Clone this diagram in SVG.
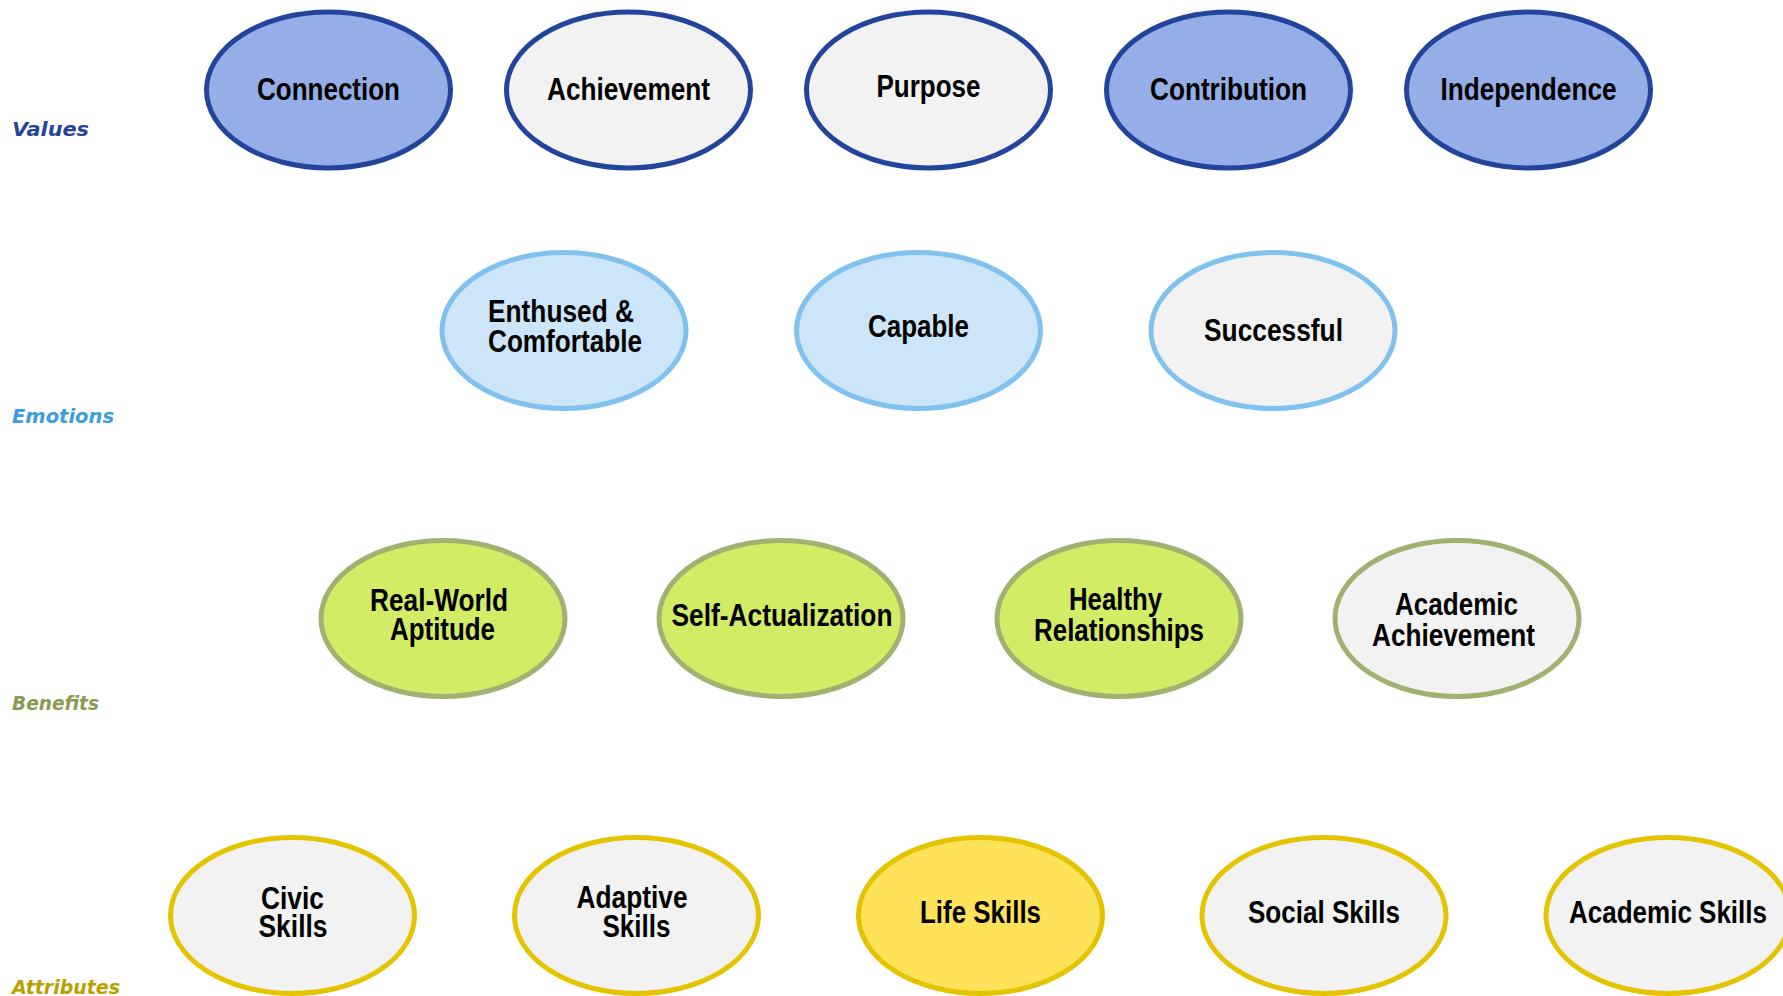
<svg xmlns="http://www.w3.org/2000/svg" width="1783" height="996" viewBox="0 0 1783 996">
<style>
.bg{fill:#FFFFFF}
ellipse{stroke-width:5}
.v{stroke:#23449C}
.e{stroke:#80C2EF}
.b{stroke:#A1B172}
.a{stroke:#E4C300}
.fv{fill:#95AEE8}
.fe{fill:#CCE5F8}
.fb{fill:#D2EC65}
.fa{fill:#FEE35A}
.fg{fill:#F2F2F2}
.t{font-family:'Liberation Sans Narrow','Liberation Sans',Arial,sans-serif;font-weight:bold;font-size:32px;fill:#000;text-anchor:middle}
.lbl{font-family:'DejaVu Sans',Verdana,sans-serif;font-weight:bold;font-style:italic;font-size:20px}
</style>
<rect class="bg" x="0" y="0" width="1783" height="996"/>
<g id="labels">
<text class="lbl" x="12" y="136" fill="#24449A" textLength="77" lengthAdjust="spacingAndGlyphs">Values</text>
<text class="lbl" x="12" y="423" fill="#3B9CDE" textLength="102" lengthAdjust="spacingAndGlyphs">Emotions</text>
<text class="lbl" x="12" y="710" fill="#8A9A55" textLength="87" lengthAdjust="spacingAndGlyphs">Benefits</text>
<text class="lbl" x="12" y="994" fill="#B8A000" textLength="108" lengthAdjust="spacingAndGlyphs">Attributes</text>
</g>
<g id="connectors"></g>
<g id="values">
<g id="connection"><ellipse class="v fv" cx="328.5" cy="90" rx="122" ry="78"/><text class="t" x="328.5" y="100" textLength="143" lengthAdjust="spacingAndGlyphs">Connection</text></g>
<g id="achievement"><ellipse class="v fg" cx="628.5" cy="90" rx="122" ry="78"/><text class="t" x="628.5" y="100" textLength="163" lengthAdjust="spacingAndGlyphs">Achievement</text></g>
<g id="purpose"><ellipse class="v fg" cx="928.5" cy="90" rx="122" ry="78"/><text class="t" x="928.5" y="97" textLength="104" lengthAdjust="spacingAndGlyphs">Purpose</text></g>
<g id="contribution"><ellipse class="v fv" cx="1228.5" cy="90" rx="122" ry="78"/><text class="t" x="1228.5" y="100" textLength="157" lengthAdjust="spacingAndGlyphs">Contribution</text></g>
<g id="independence"><ellipse class="v fv" cx="1528.5" cy="90" rx="122" ry="78"/><text class="t" x="1528.5" y="100" textLength="176" lengthAdjust="spacingAndGlyphs">Independence</text></g>
</g>
<g id="emotions">
<g id="enthused"><ellipse class="e fe" cx="564" cy="330.5" rx="122" ry="78"/><text class="t" x="561" y="322" textLength="146" lengthAdjust="spacingAndGlyphs">Enthused &amp;</text><text class="t" x="565" y="352" textLength="154" lengthAdjust="spacingAndGlyphs">Comfortable</text></g>
<g id="capable"><ellipse class="e fe" cx="918.5" cy="330.5" rx="122" ry="78"/><text class="t" x="918.5" y="337" textLength="101" lengthAdjust="spacingAndGlyphs">Capable</text></g>
<g id="successful"><ellipse class="e fg" cx="1273" cy="330.5" rx="122" ry="78"/><text class="t" x="1273.5" y="341" textLength="139" lengthAdjust="spacingAndGlyphs">Successful</text></g>
</g>
<g id="benefits">
<g id="realworld"><ellipse class="b fb" cx="443" cy="618.5" rx="122" ry="78"/><text class="t" x="439" y="611" textLength="138" lengthAdjust="spacingAndGlyphs">Real-World</text><text class="t" x="442.5" y="640" textLength="105" lengthAdjust="spacingAndGlyphs">Aptitude</text></g>
<g id="selfact"><ellipse class="b fb" cx="781" cy="618.5" rx="122" ry="78"/><text class="t" x="782" y="626" textLength="221" lengthAdjust="spacingAndGlyphs">Self-Actualization</text></g>
<g id="healthy"><ellipse class="b fb" cx="1119" cy="618.5" rx="122" ry="78"/><text class="t" x="1115.5" y="610" textLength="93" lengthAdjust="spacingAndGlyphs">Healthy</text><text class="t" x="1119" y="641" textLength="170" lengthAdjust="spacingAndGlyphs">Relationships</text></g>
<g id="academicach"><ellipse class="b fg" cx="1457" cy="618.5" rx="122" ry="78"/><text class="t" x="1456.5" y="615" textLength="123" lengthAdjust="spacingAndGlyphs">Academic</text><text class="t" x="1453.5" y="646" textLength="163" lengthAdjust="spacingAndGlyphs">Achievement</text></g>
</g>
<g id="attributes">
<g id="civic"><ellipse class="a fg" cx="292.5" cy="915.5" rx="122" ry="78"/><text class="t" x="292.5" y="909" textLength="63" lengthAdjust="spacingAndGlyphs">Civic</text><text class="t" x="293" y="937" textLength="69" lengthAdjust="spacingAndGlyphs">Skills</text></g>
<g id="adaptive"><ellipse class="a fg" cx="636.5" cy="915.5" rx="122" ry="78"/><text class="t" x="632" y="908" textLength="111" lengthAdjust="spacingAndGlyphs">Adaptive</text><text class="t" x="636.5" y="937" textLength="68" lengthAdjust="spacingAndGlyphs">Skills</text></g>
<g id="life"><ellipse class="a fa" cx="980.5" cy="915.5" rx="122" ry="78"/><text class="t" x="980.5" y="923" textLength="121" lengthAdjust="spacingAndGlyphs">Life Skills</text></g>
<g id="social"><ellipse class="a fg" cx="1324" cy="915.5" rx="122" ry="78"/><text class="t" x="1324" y="923" textLength="152" lengthAdjust="spacingAndGlyphs">Social Skills</text></g>
<g id="academicsk"><ellipse class="a fg" cx="1668" cy="915.5" rx="122" ry="78"/><text class="t" x="1668" y="923" textLength="198" lengthAdjust="spacingAndGlyphs">Academic Skills</text></g>
</g>
</svg>
